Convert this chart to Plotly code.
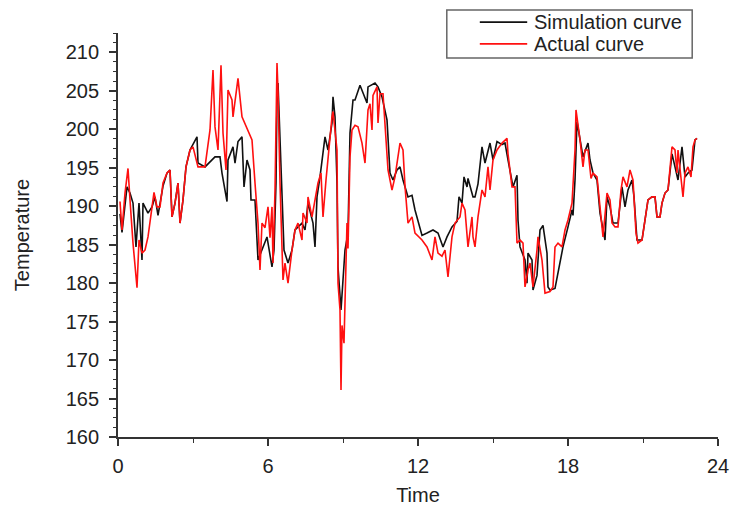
import plotly.graph_objects as go

# ---- data ----
sim_time = [
    0.08, 0.16, 0.36, 0.48, 0.60, 0.72, 0.84, 0.96, 1.00, 1.20,
    1.36, 1.48, 1.60, 1.80, 1.96, 2.08, 2.16, 2.28, 2.40, 2.48,
    2.60, 2.72, 2.88, 3.16, 3.20, 3.48, 3.88, 4.08, 4.16, 4.36,
    4.40, 4.60, 4.68, 4.80, 4.96, 5.00, 5.04, 5.16, 5.28, 5.32,
    5.48, 5.60, 5.76, 5.96, 6.16, 6.24, 6.32, 6.36, 6.40, 6.48,
    6.56, 6.64, 6.80, 6.96, 7.08, 7.36, 7.48, 7.60, 7.80, 7.88,
    7.96, 8.08, 8.28, 8.40, 8.56, 8.60, 8.68, 8.76, 8.80, 8.92,
    9.00, 9.08, 9.20, 9.28, 9.40, 9.48, 9.68, 9.96, 10.00, 10.28,
    10.40, 10.56, 10.76, 10.80, 10.88, 11.00, 11.16, 11.28, 11.40, 11.60,
    11.76, 11.88, 12.00, 12.16, 12.36, 12.60, 12.80, 13.00, 13.16, 13.36,
    13.56, 13.64, 13.76, 13.84, 13.96, 14.00, 14.20, 14.28, 14.40, 14.56,
    14.68, 14.88, 15.00, 15.16, 15.36, 15.48, 15.60, 15.80, 15.96, 16.00,
    16.08, 16.28, 16.36, 16.40, 16.56, 16.60, 16.76, 16.88, 17.00, 17.16,
    17.20, 17.28, 17.48, 17.68, 17.80, 18.00, 18.16, 18.20, 18.28, 18.36,
    18.48, 18.60, 18.80, 18.88, 19.00, 19.16, 19.28, 19.48, 19.56, 19.68,
    19.80, 20.00, 20.16, 20.28, 20.40, 20.56, 20.64, 20.76, 20.96, 21.08,
    21.20, 21.36, 21.48, 21.56, 21.68, 21.76, 21.88, 22.00, 22.16, 22.28,
    22.40, 22.56, 22.68, 22.80, 22.96, 23.08, 23.16,
]
sim_temp = [
    189.0, 186.6, 192.5, 191.7, 190.4, 184.7, 190.4, 183.0, 190.4, 189.1,
    189.9, 191.2, 188.8, 192.6, 194.3, 194.7, 188.6, 190.4, 193.0, 187.8,
    190.8, 195.1, 197.3, 199.0, 195.6, 195.1, 196.4, 196.4, 194.3, 190.6,
    196.0, 197.7, 195.6, 198.4, 199.0, 195.6, 192.5, 196.0, 194.7, 190.8,
    190.8, 183.0, 184.3, 186.0, 182.1, 184.3, 193.0, 204.2, 206.0, 199.0,
    193.8, 184.3, 182.6, 184.3, 186.9, 187.8, 186.9, 190.4, 187.8, 184.7,
    191.2, 193.8, 199.0, 197.3, 200.8, 204.2, 201.6, 193.0, 182.1, 176.5,
    180.4, 184.3, 186.5, 199.5, 203.8, 203.8, 205.7, 203.4, 205.5, 206.0,
    205.5, 204.2, 201.2, 198.2, 194.3, 193.4, 194.7, 195.1, 193.4, 191.2,
    191.4, 189.5, 188.2, 186.2, 186.5, 186.9, 186.5, 184.7, 186.0, 187.3,
    188.0, 191.2, 190.4, 193.8, 192.5, 193.6, 191.2, 191.2, 192.9, 197.7,
    195.6, 198.2, 196.0, 198.4, 198.0, 198.2, 196.0, 192.5, 194.0, 188.2,
    184.7, 183.0, 180.0, 183.9, 183.0, 179.1, 181.0, 186.9, 187.5, 183.9,
    179.5, 179.1, 179.3, 182.6, 184.7, 187.3, 189.5, 188.8, 193.4, 201.0,
    198.6, 196.4, 198.2, 196.0, 194.3, 193.4, 189.1, 185.6, 191.2, 189.9,
    187.8, 187.8, 192.5, 189.9, 192.1, 193.4, 191.2, 185.6, 185.6, 188.2,
    190.8, 191.2, 191.2, 188.6, 188.6, 190.4, 191.7, 192.1, 196.8, 195.1,
    193.4, 197.7, 193.8, 194.3, 194.7, 198.6, 198.8,
]

act_time = [
    0.08, 0.16, 0.28, 0.40, 0.48, 0.60, 0.76, 0.84, 0.96, 1.08,
    1.20, 1.36, 1.44, 1.56, 1.68, 1.80, 1.96, 2.08, 2.16, 2.28,
    2.40, 2.48, 2.60, 2.72, 2.88, 3.00, 3.20, 3.48, 3.68, 3.80,
    3.88, 4.00, 4.12, 4.20, 4.32, 4.40, 4.56, 4.60, 4.80, 4.96,
    5.36, 5.48, 5.60, 5.68, 5.76, 5.88, 6.00, 6.08, 6.16, 6.20,
    6.28, 6.36, 6.40, 6.48, 6.56, 6.60, 6.68, 6.80, 6.96, 7.08,
    7.20, 7.36, 7.40, 7.56, 7.60, 7.76, 7.88, 8.00, 8.12, 8.20,
    8.32, 8.40, 8.56, 8.60, 8.76, 8.80, 8.88, 8.92, 8.96, 9.04,
    9.12, 9.16, 9.20, 9.28, 9.36, 9.48, 9.60, 9.76, 9.88, 10.00,
    10.08, 10.16, 10.20, 10.36, 10.40, 10.48, 10.60, 10.68, 10.80, 10.96,
    11.08, 11.28, 11.40, 11.48, 11.60, 11.76, 11.88, 12.16, 12.36, 12.56,
    12.68, 12.80, 12.96, 13.08, 13.20, 13.36, 13.48, 13.68, 13.76, 13.88,
    14.00, 14.16, 14.20, 14.28, 14.40, 14.56, 14.68, 14.80, 14.88, 15.00,
    15.16, 15.36, 15.56, 15.60, 15.76, 15.88, 15.96, 16.08, 16.20, 16.28,
    16.40, 16.48, 16.60, 16.76, 16.80, 16.96, 17.08, 17.28, 17.40, 17.48,
    17.60, 17.76, 17.88, 18.00, 18.16, 18.28, 18.32, 18.48, 18.60, 18.68,
    18.80, 18.92, 19.00, 19.16, 19.28, 19.40, 19.56, 19.68, 19.76, 19.88,
    20.00, 20.12, 20.20, 20.36, 20.48, 20.60, 20.72, 20.80, 20.96, 21.08,
    21.20, 21.36, 21.48, 21.56, 21.68, 21.76, 21.88, 22.00, 22.16, 22.28,
    22.36, 22.40, 22.52, 22.60, 22.68, 22.80, 22.92, 23.00, 23.08, 23.16,
]
act_temp = [
    190.6, 186.9, 191.7, 194.9, 190.8, 185.2, 179.4, 185.6, 183.9, 184.3,
    186.0, 189.5, 191.8, 189.9, 189.9, 193.0, 194.3, 194.7, 188.6, 190.4,
    193.0, 187.8, 190.8, 195.1, 197.3, 197.7, 195.1, 195.1, 199.9, 207.7,
    200.3, 197.3, 208.3, 199.5, 194.7, 205.1, 203.8, 201.6, 206.6, 201.6,
    198.6, 193.0, 187.8, 181.7, 187.8, 187.2, 189.9, 185.9, 189.9, 182.6,
    192.0, 208.6, 205.0, 193.0, 185.0, 180.4, 182.6, 180.0, 184.3, 186.9,
    187.8, 185.6, 189.1, 187.8, 191.2, 188.6, 190.8, 193.0, 194.3, 188.6,
    193.4, 196.4, 201.6, 202.3, 197.3, 180.0, 176.5, 166.1, 174.5, 172.2,
    182.0, 187.8, 184.5, 196.4, 199.9, 200.5, 200.3, 198.2, 195.6, 202.5,
    203.3, 199.9, 204.4, 205.5, 200.8, 204.6, 204.6, 200.8, 194.7, 192.1,
    193.8, 198.2, 197.3, 192.6, 187.8, 188.6, 186.5, 185.6, 184.7, 183.0,
    186.0, 183.9, 183.5, 184.3, 180.8, 186.0, 187.8, 188.6, 190.4, 189.5,
    184.7, 188.6, 186.0, 184.7, 188.6, 192.1, 191.2, 195.1, 192.1, 196.0,
    197.3, 198.2, 198.8, 196.8, 192.5, 192.5, 185.2, 185.6, 185.2, 179.5,
    181.7, 182.6, 179.5, 184.3, 186.0, 183.0, 178.7, 178.9, 179.5, 184.7,
    185.2, 184.7, 186.9, 188.2, 190.4, 197.3, 202.5, 198.6, 195.1, 197.3,
    197.3, 193.6, 194.3, 193.8, 189.9, 186.0, 191.7, 190.8, 187.8, 187.3,
    187.3, 192.1, 193.8, 192.5, 194.7, 193.4, 186.5, 185.2, 185.6, 188.2,
    190.8, 191.2, 191.2, 188.6, 188.6, 190.4, 191.7, 192.1, 197.7, 197.3,
    194.3, 197.3, 193.4, 191.2, 194.3, 195.1, 193.8, 197.7, 198.6, 198.8,
]

x_ticks = [0, 6, 12, 18, 24]
y_ticks = [160, 165, 170, 175, 180, 185, 190, 195, 200, 205, 210]

series_names = ["Simulation curve", "Actual curve"]
series_colors = ["#111111", "#ff1010"]

FONT = "Liberation Sans, Arial, sans-serif"

fig = go.Figure()
fig.add_trace(go.Scatter(x=sim_time, y=sim_temp, mode="lines", name=series_names[0],
                         line=dict(color=series_colors[0], width=1.6), showlegend=False))
fig.add_trace(go.Scatter(x=act_time, y=act_temp, mode="lines", name=series_names[1],
                         line=dict(color=series_colors[1], width=1.6), showlegend=False))

# legend drawn as a framed box (paper coordinates)
shapes = [dict(type="rect", xref="paper", yref="paper", x0=0.548, x1=0.957, y0=0.938, y1=1.057,
               line=dict(color="#666666", width=1.5), fillcolor="white", layer="above")]
annotations = []
for i, (nm, col) in enumerate(zip(series_names, series_colors)):
    yy = 1.027 - i * 0.054
    shapes.append(dict(type="line", xref="paper", yref="paper", x0=0.603, x1=0.682, y0=yy, y1=yy,
                       line=dict(color=col, width=1.8), layer="above"))
    annotations.append(dict(xref="paper", yref="paper", x=0.690, y=yy, text=nm, showarrow=False,
                            xanchor="left", yanchor="middle",
                            font=dict(family=FONT, size=20, color="#222222")))

fig.update_layout(
    width=738, height=506,
    margin=dict(l=118, r=20, t=33, b=69, autoexpand=False),
    paper_bgcolor="white", plot_bgcolor="white",
    font=dict(family=FONT, size=20, color="#222222"),
    showlegend=False,
    shapes=shapes, annotations=annotations,
)
fig.update_xaxes(range=[0, 24], tickvals=x_ticks, ticks="outside", ticklen=7,
                 tickwidth=1.5, tickcolor="#333", showline=True, linecolor="#333",
                 linewidth=1.8, showgrid=False, zeroline=False, ticklabelstandoff=3,
                 minor=dict(dtick=3, ticks="outside", ticklen=4, tickcolor="#333", tickwidth=1.2),
                 title=dict(text="Time", font=dict(size=20), standoff=16))
fig.update_yaxes(range=[160, 212.5], tickvals=y_ticks, ticks="outside", ticklen=7,
                 tickwidth=1.5, tickcolor="#333", showline=True, linecolor="#333",
                 linewidth=1.8, showgrid=False, zeroline=False, ticklabelstandoff=6,
                 minor=dict(dtick=1.25, tick0=160, ticks="outside", ticklen=3, tickcolor="#333", tickwidth=1),
                 title=dict(text="Temperature", font=dict(size=20), standoff=31))

fig.write_html("out.html", config={"displayModeBar": False},
               post_script="document.body.style.margin='0px';")
